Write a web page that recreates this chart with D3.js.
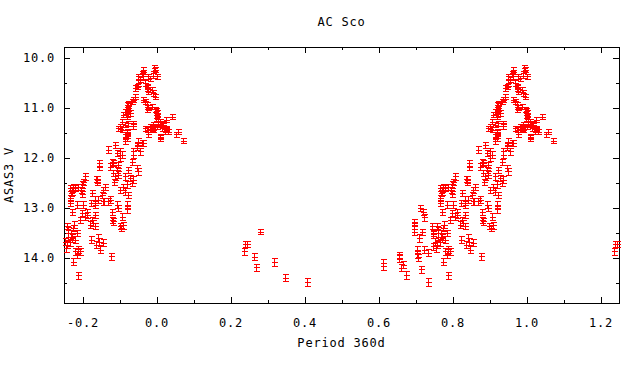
<!DOCTYPE html>
<html>
<head>
<meta charset="utf-8">
<script src="https://cdn.jsdelivr.net/npm/d3@7.9.0/dist/d3.min.js"></script>
<style>
  body { margin: 0; background: #fff; }
  svg { display: block; }
  text { font-family: "DejaVu Sans Mono", monospace; font-size: 12px; letter-spacing: 0.8px; fill: #000; }
</style>
</head>
<body>
<svg id="chart" width="640" height="384"></svg>
<script>
// phase (fraction of the 360d period) and ASAS3 V magnitude, with errors
const phase = [
  0.807,0.802,0.799,0.838,0.766,0.780,0.796,0.768,0.798,0.826,
  0.852,0.766,0.843,0.858,0.766,0.784,0.802,0.823,0.834,0.712,
  0.721,0.724,0.771,0.798,0.811,0.807,0.834,0.793,0.825,0.820,
  0.834,0.697,0.697,0.697,0.717,0.710,0.744,0.757,0.775,0.784,
  0.748,0.762,0.771,0.780,0.753,0.766,0.760,0.770,0.777,0.758,
  0.823,0.843,0.845,0.836,0.847,0.748,0.724,0.735,0.703,0.703,
  0.706,0.780,0.793,0.789,0.784,0.656,0.656,0.613,0.613,0.665,
  0.660,0.775,0.714,0.674,0.789,0.735,0.755,0.748,0.855,0.876,
  0.882,0.900,0.905,0.909,0.919,0.924,0.910,0.915,0.978,0.973,
  0.998,0.906,0.897,0.924,0.937,0.919,0.915,0.919,0.973,0.978,
  0.998,1.009,1.018,1.000,1.027,1.009,0.987,0.991,0.888,0.870,
  0.951,0.946,0.955,0.960,0.892,0.906,0.901,0.937,0.933,0.879,
  0.883,0.874,0.897,0.845,0.845,0.924,0.946,0.951,0.892,0.883,
  0.888,0.897,0.915,0.928,0.937,0.933,0.885,0.836,0.838,0.910,
  0.919,0.901,0.915,0.924,0.861,0.856,0.834,0.775,0.771,0.789,
  0.874,0.892,0.897,0.919,0.919,0.856,0.870,0.879,0.879,0.906,
  0.811,0.829,0.993,0.996,0.991,0.964,0.960,0.964,0.978,0.982,
  0.991,1.000,0.951,0.955,0.951,0.969,0.973,0.946,0.942,0.973,
  0.978,0.987,0.991,0.996,0.942,0.937,0.933,0.924,0.964,0.969,
  0.973,0.987,0.919,0.924,0.928,0.919,0.996,1.000,0.901,0.906,
  0.915,0.937,1.000,1.005,1.009,1.018,1.027,1.041,0.996,0.991,
  0.969,0.982,1.014,1.027,1.023,1.032,1.059,1.054,1.072,1.009,
  0.919,0.915,0.901,0.937,0.946,0.964,
  0.236,0.240,0.245,0.263,0.269,0.279,0.317,0.347,0.406
];
const mag = [
  12.37,12.47,12.53,12.43,12.60,12.60,12.63,12.70,12.71,12.70,
  12.73,12.80,12.83,12.87,12.90,12.93,12.93,12.90,12.93,13.00,
  13.07,13.19,13.07,13.10,13.13,13.17,13.13,13.23,13.23,13.33,
  13.37,13.29,13.37,13.47,13.47,13.60,13.37,13.37,13.40,13.50,
  13.53,13.57,13.60,13.63,13.67,13.69,13.45,13.51,13.33,13.73,
  13.63,13.60,13.67,13.73,13.83,13.77,13.83,13.89,13.83,13.93,
  13.98,13.87,13.87,13.82,13.93,13.95,14.00,14.10,14.17,14.13,
  14.20,14.07,14.22,14.34,14.35,14.47,13.80,13.50,13.70,13.96,
  13.27,13.37,13.40,13.35,11.03,11.10,11.13,11.07,10.99,11.03,
  11.05,11.27,11.40,11.30,11.30,11.47,11.57,11.60,11.43,11.53,
  11.20,11.27,11.33,11.37,11.40,11.60,11.40,11.33,11.73,11.83,
  11.67,11.77,11.87,11.70,11.90,11.93,12.00,11.93,12.07,12.07,
  12.10,12.17,12.13,12.10,12.17,12.23,12.20,12.27,12.23,12.30,
  12.37,12.33,12.37,12.40,12.43,12.50,12.47,12.41,12.48,12.57,
  12.53,12.63,12.67,12.73,12.57,12.63,12.83,12.57,12.67,12.57,
  12.83,12.93,13.00,12.93,13.03,12.87,12.87,13.07,13.23,13.17,
  13.07,13.30,10.20,10.23,10.30,10.23,10.30,10.37,10.37,10.40,
  10.35,10.37,10.37,10.43,10.50,10.50,10.57,10.57,10.60,10.60,
  10.67,10.63,10.70,10.77,10.77,10.83,10.87,10.90,10.83,10.87,
  10.93,10.97,10.93,11.00,11.10,11.17,11.03,11.10,11.37,11.43,
  11.33,11.37,11.17,11.27,11.33,11.30,11.23,11.17,11.37,11.43,
  11.40,11.37,11.40,11.43,11.47,11.47,11.47,11.53,11.65,11.57,
  11.50,11.65,11.87,11.87,11.73,11.70,
  13.87,13.72,13.72,13.97,14.19,13.47,14.08,14.39,14.47
];
const magErr = [
  0.06,0.06,0.06,0.06,0.06,0.06,0.06,0.06,0.06,0.06,
  0.06,0.06,0.06,0.06,0.06,0.06,0.06,0.06,0.06,0.06,
  0.06,0.06,0.06,0.06,0.06,0.06,0.06,0.06,0.06,0.06,
  0.06,0.06,0.06,0.06,0.06,0.07,0.06,0.06,0.06,0.06,
  0.07,0.07,0.07,0.07,0.07,0.07,0.06,0.07,0.06,0.07,
  0.07,0.07,0.07,0.07,0.07,0.07,0.07,0.07,0.07,0.07,
  0.07,0.07,0.07,0.07,0.07,0.07,0.07,0.07,0.07,0.07,
  0.07,0.07,0.07,0.07,0.07,0.08,0.07,0.06,0.07,0.07,
  0.06,0.06,0.06,0.06,0.05,0.05,0.05,0.05,0.05,0.05,
  0.05,0.05,0.05,0.05,0.05,0.05,0.05,0.05,0.05,0.05,
  0.05,0.05,0.05,0.05,0.05,0.05,0.05,0.05,0.06,0.06,
  0.06,0.06,0.06,0.06,0.06,0.06,0.06,0.06,0.06,0.06,
  0.06,0.06,0.06,0.06,0.06,0.06,0.06,0.06,0.06,0.06,
  0.06,0.06,0.06,0.06,0.06,0.06,0.06,0.06,0.06,0.06,
  0.06,0.06,0.06,0.06,0.06,0.06,0.06,0.06,0.06,0.06,
  0.06,0.06,0.06,0.06,0.06,0.06,0.06,0.06,0.06,0.06,
  0.06,0.06,0.05,0.05,0.05,0.05,0.05,0.05,0.05,0.05,
  0.05,0.05,0.05,0.05,0.05,0.05,0.05,0.05,0.05,0.05,
  0.05,0.05,0.05,0.05,0.05,0.05,0.05,0.05,0.05,0.05,
  0.05,0.05,0.05,0.05,0.05,0.05,0.05,0.05,0.05,0.05,
  0.05,0.05,0.05,0.05,0.05,0.05,0.05,0.05,0.05,0.05,
  0.05,0.05,0.05,0.05,0.05,0.05,0.05,0.05,0.05,0.05,
  0.05,0.06,0.06,0.06,0.06,0.06,
  0.07,0.06,0.06,0.07,0.07,0.05,0.07,0.07,0.08
];

const xMajor = [-0.2, 0.0, 0.2, 0.4, 0.6, 0.8, 1.0, 1.2];
const xMinor = [-0.1, 0.1, 0.3, 0.5, 0.7, 0.9, 1.1];
const yMajor = [10, 11, 12, 13, 14];
const yMinor = [10.5, 11.5, 12.5, 13.5, 14.5];

const title = 'AC Sco';
const xTitle = 'Period 360d';
const yTitle = 'ASAS3 V';

const margin = { left: 64, right: 21, top: 47, bottom: 81 };
const W = 640, H = 384;
const pw = W - margin.left - margin.right;
const ph = H - margin.top - margin.bottom;

const svg = d3.select('#chart');
const g = svg.append('g').attr('transform', `translate(${margin.left},${margin.top})`);

const x = d3.scaleLinear().domain([-0.25, 1.25]).range([0, pw]);
const y = d3.scaleLinear().domain([9.78, 14.9]).range([0, ph]);

const fmt = (d) => d.toFixed(1);

// major + minor ticks, pointing into the frame on all four sides
function addAxis(axis, transform, labels) {
  const a = g.append('g').attr('transform', transform).call(axis);
  a.select('.domain').remove();
  a.selectAll('line').attr('stroke', '#000').attr('shape-rendering', 'crispEdges');
  if (!labels) a.selectAll('text').remove();
  return a;
}

addAxis(d3.axisBottom(x).tickValues(xMajor).tickFormat(fmt).tickSizeInner(-6).tickSizeOuter(0).tickPadding(15), `translate(0,${ph})`, true);
addAxis(d3.axisBottom(x).tickValues(xMinor).tickSizeInner(-3).tickSizeOuter(0), `translate(0,${ph})`, false);
addAxis(d3.axisTop(x).tickValues(xMajor).tickSizeInner(-6).tickSizeOuter(0), 'translate(0,0)', false);
addAxis(d3.axisTop(x).tickValues(xMinor).tickSizeInner(-3).tickSizeOuter(0), 'translate(0,0)', false);

addAxis(d3.axisLeft(y).tickValues(yMajor).tickFormat(fmt).tickSizeInner(-6).tickSizeOuter(0).tickPadding(9), 'translate(0,0)', true);
addAxis(d3.axisLeft(y).tickValues(yMinor).tickSizeInner(-3).tickSizeOuter(0), 'translate(0,0)', false);
addAxis(d3.axisRight(y).tickValues(yMajor).tickSizeInner(-6).tickSizeOuter(0), `translate(${pw},0)`, false);
addAxis(d3.axisRight(y).tickValues(yMinor).tickSizeInner(-3).tickSizeOuter(0), `translate(${pw},0)`, false);

g.selectAll('.tick text').attr('font-family', null).attr('font-size', null);
svg.selectAll('g').attr('font-family', null).attr('font-size', null);

g.append('rect')
  .attr('x', 0.5).attr('y', 0.5)
  .attr('width', pw).attr('height', ph)
  .attr('fill', 'none').attr('stroke', '#000')
  .attr('shape-rendering', 'crispEdges');

// each observation is repeated one period earlier / later where it fits the window
const pts = [];
phase.forEach((p, i) => {
  [-1, 0, 1].forEach((k) => {
    const q = p + k;
    if (q >= -0.25 && q <= 1.25) pts.push({ p: q, m: mag[i], e: magErr[i] });
  });
});

const cap = 3;
g.append('g')
  .attr('fill', 'none')
  .attr('stroke', '#ff0000')
  .attr('stroke-width', 1)
  .attr('shape-rendering', 'crispEdges')
  .selectAll('path')
  .data(pts)
  .join('path')
  .attr('d', (d) => {
    const cx = Math.round(x(d.p)) + 0.5;
    const cy = Math.round(y(d.m)) + 0.5;
    const yt = Math.round(y(d.m - d.e)) + 0.5;
    const yb = Math.round(y(d.m + d.e)) + 0.5;
    return `M${cx - cap},${yt}H${cx + cap}M${cx},${yt}V${yb}M${cx - cap},${yb}H${cx + cap}M${cx - cap},${cy}H${cx + cap}`;
  });

svg.append('text')
  .attr('x', margin.left + pw / 2).attr('y', 26)
  .attr('text-anchor', 'middle')
  .text(title);

svg.append('text')
  .attr('x', margin.left + pw / 2).attr('y', 347)
  .attr('text-anchor', 'middle')
  .text(xTitle);

svg.append('text')
  .attr('transform', `translate(13,${margin.top + ph / 2}) rotate(-90)`)
  .attr('text-anchor', 'middle')
  .text(yTitle);
</script>
</body>
</html>
